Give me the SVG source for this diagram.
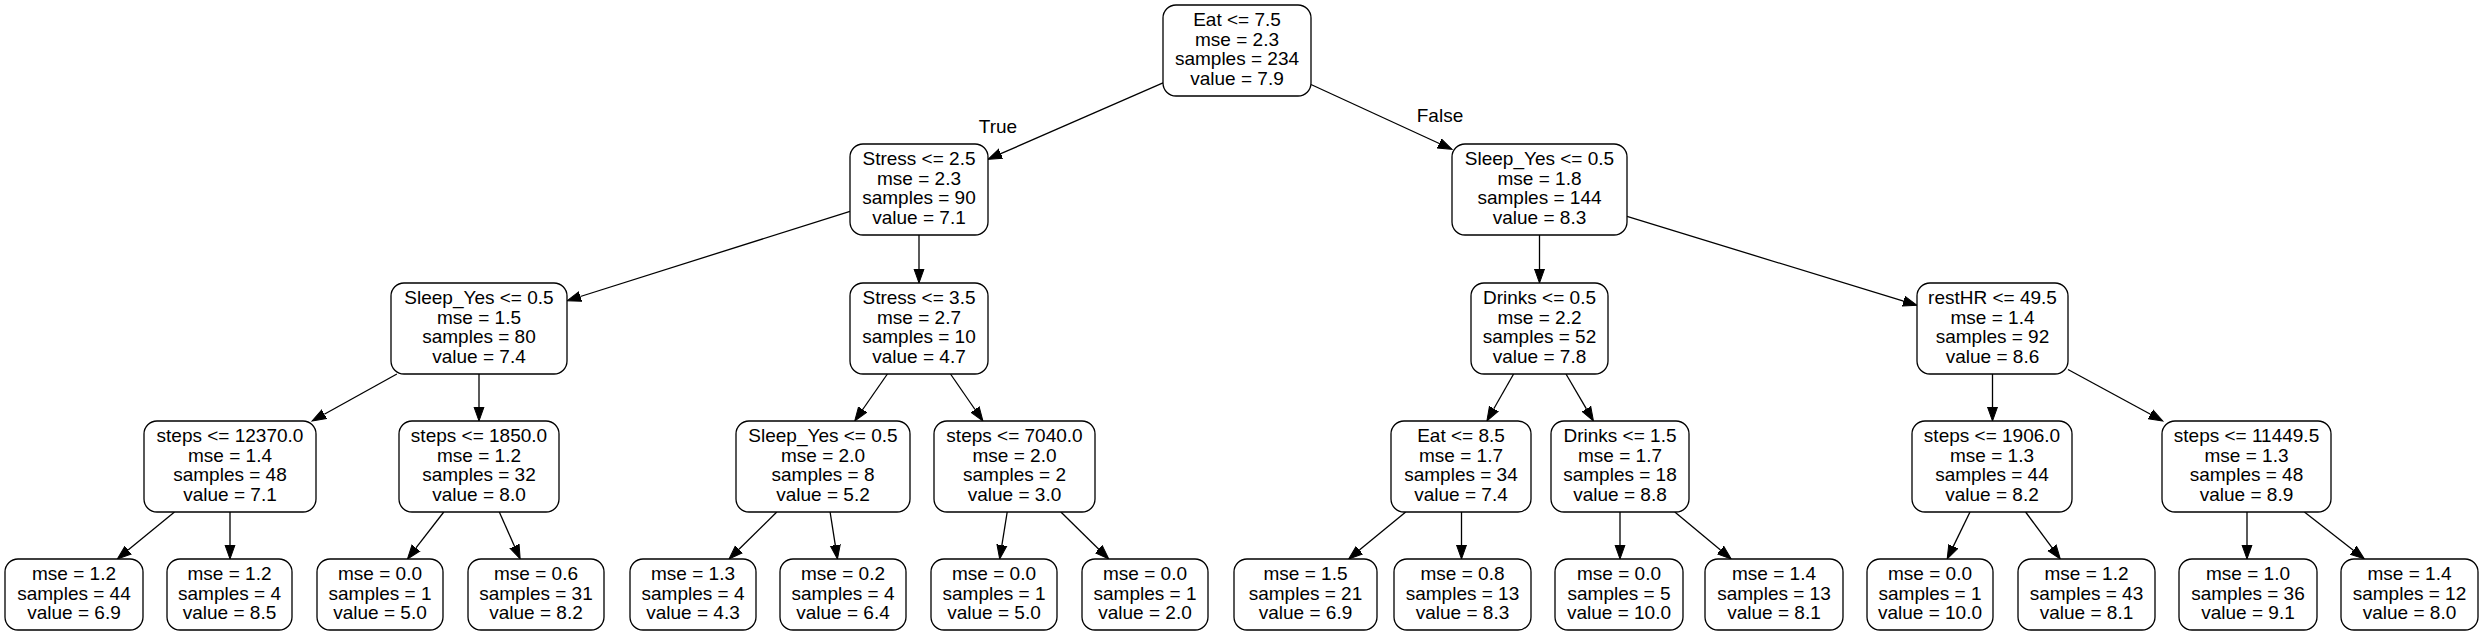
<svg xmlns="http://www.w3.org/2000/svg" width="2483" height="636" viewBox="0 0 2483 636">
<style>
.n rect{fill:#fff;stroke:#000;stroke-width:1.3}
text{font-family:"Liberation Sans",Arial,sans-serif;font-size:19px;fill:#000;text-anchor:middle}
.e line{stroke:#000;stroke-width:1.3;marker-end:url(#ah)}
</style>
<defs>
<marker id="ah" markerUnits="userSpaceOnUse" markerWidth="16" markerHeight="12" refX="0" refY="5" orient="auto" viewBox="0 0 16 10">
<path d="M0,0 L14,5 L0,10 Z" fill="#000" stroke="#000" stroke-width="1"/>
</marker>
</defs>
<rect width="2483" height="636" fill="#fff"/>
<g class="e" id="edges">
<line x1="1163" y1="82.9" x2="1000.8" y2="153.7"/>
<line x1="1311" y1="84.5" x2="1439.3" y2="143.5"/>
<line x1="850" y1="211.3" x2="580.4" y2="296.5"/>
<line x1="919" y1="235" x2="919" y2="269"/>
<line x1="1539.5" y1="235" x2="1539.5" y2="269"/>
<line x1="1627" y1="216.4" x2="1903.6" y2="301.2"/>
<line x1="396.9" y1="374" x2="324.3" y2="414.2"/>
<line x1="479" y1="374" x2="479" y2="407"/>
<line x1="887.4" y1="374" x2="862.7" y2="409.5"/>
<line x1="950.5" y1="374" x2="975" y2="409.5"/>
<line x1="1513.6" y1="374" x2="1493.8" y2="408.8"/>
<line x1="1566" y1="374" x2="1586.4" y2="408.9"/>
<line x1="1992.5" y1="374" x2="1992.5" y2="407"/>
<line x1="2068" y1="369.5" x2="2150.5" y2="414.3"/>
<line x1="174.5" y1="512" x2="128.1" y2="550.1"/>
<line x1="230" y1="512" x2="230" y2="545"/>
<line x1="443.8" y1="512" x2="416" y2="547.9"/>
<line x1="499.3" y1="512" x2="514.5" y2="546.2"/>
<line x1="776.8" y1="512" x2="739" y2="549.2"/>
<line x1="830.1" y1="512" x2="835.3" y2="545.2"/>
<line x1="1007.2" y1="512" x2="1001.9" y2="545.2"/>
<line x1="1060.9" y1="512" x2="1098.8" y2="549.2"/>
<line x1="1405.7" y1="512" x2="1359.4" y2="550.1"/>
<line x1="1461.5" y1="512" x2="1461.5" y2="545"/>
<line x1="1620" y1="512" x2="1620" y2="545"/>
<line x1="1674.8" y1="512" x2="1720.5" y2="550.1"/>
<line x1="1970" y1="512" x2="1953.3" y2="546.4"/>
<line x1="2025.6" y1="512" x2="2052" y2="547.7"/>
<line x1="2247" y1="512" x2="2247" y2="545"/>
<line x1="2304.4" y1="512" x2="2353.3" y2="550.3"/>
<text x="998" y="132.7">True</text>
<text x="1440" y="121.7">False</text>
</g>
<g class="n" id="n0"><rect x="1163" y="5" width="148" height="91" rx="13"/><text x="1237" y="26">Eat &lt;= 7.5</text><text x="1237" y="45.7">mse = 2.3</text><text x="1237" y="65.4">samples = 234</text><text x="1237" y="85.1">value = 7.9</text></g>
<g class="n" id="n1"><rect x="850" y="144" width="138" height="91" rx="13"/><text x="919" y="165">Stress &lt;= 2.5</text><text x="919" y="184.7">mse = 2.3</text><text x="919" y="204.4">samples = 90</text><text x="919" y="224.1">value = 7.1</text></g>
<g class="n" id="n2"><rect x="1452" y="144" width="175" height="91" rx="13"/><text x="1539.5" y="165">Sleep_Yes &lt;= 0.5</text><text x="1539.5" y="184.7">mse = 1.8</text><text x="1539.5" y="204.4">samples = 144</text><text x="1539.5" y="224.1">value = 8.3</text></g>
<g class="n" id="n3"><rect x="391" y="283" width="176" height="91" rx="13"/><text x="479" y="304">Sleep_Yes &lt;= 0.5</text><text x="479" y="323.7">mse = 1.5</text><text x="479" y="343.4">samples = 80</text><text x="479" y="363.1">value = 7.4</text></g>
<g class="n" id="n4"><rect x="850" y="283" width="138" height="91" rx="13"/><text x="919" y="304">Stress &lt;= 3.5</text><text x="919" y="323.7">mse = 2.7</text><text x="919" y="343.4">samples = 10</text><text x="919" y="363.1">value = 4.7</text></g>
<g class="n" id="n5"><rect x="1471" y="283" width="137" height="91" rx="13"/><text x="1539.5" y="304">Drinks &lt;= 0.5</text><text x="1539.5" y="323.7">mse = 2.2</text><text x="1539.5" y="343.4">samples = 52</text><text x="1539.5" y="363.1">value = 7.8</text></g>
<g class="n" id="n6"><rect x="1917" y="283" width="151" height="91" rx="13"/><text x="1992.5" y="304">restHR &lt;= 49.5</text><text x="1992.5" y="323.7">mse = 1.4</text><text x="1992.5" y="343.4">samples = 92</text><text x="1992.5" y="363.1">value = 8.6</text></g>
<g class="n" id="n7"><rect x="144" y="421" width="172" height="91" rx="13"/><text x="230" y="442">steps &lt;= 12370.0</text><text x="230" y="461.7">mse = 1.4</text><text x="230" y="481.4">samples = 48</text><text x="230" y="501.1">value = 7.1</text></g>
<g class="n" id="n8"><rect x="399" y="421" width="160" height="91" rx="13"/><text x="479" y="442">steps &lt;= 1850.0</text><text x="479" y="461.7">mse = 1.2</text><text x="479" y="481.4">samples = 32</text><text x="479" y="501.1">value = 8.0</text></g>
<g class="n" id="n9"><rect x="736" y="421" width="174" height="91" rx="13"/><text x="823" y="442">Sleep_Yes &lt;= 0.5</text><text x="823" y="461.7">mse = 2.0</text><text x="823" y="481.4">samples = 8</text><text x="823" y="501.1">value = 5.2</text></g>
<g class="n" id="n10"><rect x="934" y="421" width="161" height="91" rx="13"/><text x="1014.5" y="442">steps &lt;= 7040.0</text><text x="1014.5" y="461.7">mse = 2.0</text><text x="1014.5" y="481.4">samples = 2</text><text x="1014.5" y="501.1">value = 3.0</text></g>
<g class="n" id="n11"><rect x="1391" y="421" width="140" height="91" rx="13"/><text x="1461" y="442">Eat &lt;= 8.5</text><text x="1461" y="461.7">mse = 1.7</text><text x="1461" y="481.4">samples = 34</text><text x="1461" y="501.1">value = 7.4</text></g>
<g class="n" id="n12"><rect x="1551" y="421" width="138" height="91" rx="13"/><text x="1620" y="442">Drinks &lt;= 1.5</text><text x="1620" y="461.7">mse = 1.7</text><text x="1620" y="481.4">samples = 18</text><text x="1620" y="501.1">value = 8.8</text></g>
<g class="n" id="n13"><rect x="1912" y="421" width="160" height="91" rx="13"/><text x="1992" y="442">steps &lt;= 1906.0</text><text x="1992" y="461.7">mse = 1.3</text><text x="1992" y="481.4">samples = 44</text><text x="1992" y="501.1">value = 8.2</text></g>
<g class="n" id="n14"><rect x="2162" y="421" width="169" height="91" rx="13"/><text x="2246.5" y="442">steps &lt;= 11449.5</text><text x="2246.5" y="461.7">mse = 1.3</text><text x="2246.5" y="481.4">samples = 48</text><text x="2246.5" y="501.1">value = 8.9</text></g>
<g class="n" id="l1"><rect x="5" y="559" width="138" height="71" rx="13"/><text x="74" y="579.8">mse = 1.2</text><text x="74" y="599.5">samples = 44</text><text x="74" y="619.2">value = 6.9</text></g>
<g class="n" id="l2"><rect x="167" y="559" width="125" height="71" rx="13"/><text x="229.5" y="579.8">mse = 1.2</text><text x="229.5" y="599.5">samples = 4</text><text x="229.5" y="619.2">value = 8.5</text></g>
<g class="n" id="l3"><rect x="317" y="559" width="126" height="71" rx="13"/><text x="380" y="579.8">mse = 0.0</text><text x="380" y="599.5">samples = 1</text><text x="380" y="619.2">value = 5.0</text></g>
<g class="n" id="l4"><rect x="468" y="559" width="136" height="71" rx="13"/><text x="536" y="579.8">mse = 0.6</text><text x="536" y="599.5">samples = 31</text><text x="536" y="619.2">value = 8.2</text></g>
<g class="n" id="l5"><rect x="630" y="559" width="126" height="71" rx="13"/><text x="693" y="579.8">mse = 1.3</text><text x="693" y="599.5">samples = 4</text><text x="693" y="619.2">value = 4.3</text></g>
<g class="n" id="l6"><rect x="780" y="559" width="126" height="71" rx="13"/><text x="843" y="579.8">mse = 0.2</text><text x="843" y="599.5">samples = 4</text><text x="843" y="619.2">value = 6.4</text></g>
<g class="n" id="l7"><rect x="931" y="559" width="126" height="71" rx="13"/><text x="994" y="579.8">mse = 0.0</text><text x="994" y="599.5">samples = 1</text><text x="994" y="619.2">value = 5.0</text></g>
<g class="n" id="l8"><rect x="1082" y="559" width="126" height="71" rx="13"/><text x="1145" y="579.8">mse = 0.0</text><text x="1145" y="599.5">samples = 1</text><text x="1145" y="619.2">value = 2.0</text></g>
<g class="n" id="l9"><rect x="1234" y="559" width="143" height="71" rx="13"/><text x="1305.5" y="579.8">mse = 1.5</text><text x="1305.5" y="599.5">samples = 21</text><text x="1305.5" y="619.2">value = 6.9</text></g>
<g class="n" id="l10"><rect x="1394" y="559" width="137" height="71" rx="13"/><text x="1462.5" y="579.8">mse = 0.8</text><text x="1462.5" y="599.5">samples = 13</text><text x="1462.5" y="619.2">value = 8.3</text></g>
<g class="n" id="l11"><rect x="1555" y="559" width="128" height="71" rx="13"/><text x="1619" y="579.8">mse = 0.0</text><text x="1619" y="599.5">samples = 5</text><text x="1619" y="619.2">value = 10.0</text></g>
<g class="n" id="l12"><rect x="1705" y="559" width="138" height="71" rx="13"/><text x="1774" y="579.8">mse = 1.4</text><text x="1774" y="599.5">samples = 13</text><text x="1774" y="619.2">value = 8.1</text></g>
<g class="n" id="l13"><rect x="1867" y="559" width="126" height="71" rx="13"/><text x="1930" y="579.8">mse = 0.0</text><text x="1930" y="599.5">samples = 1</text><text x="1930" y="619.2">value = 10.0</text></g>
<g class="n" id="l14"><rect x="2018" y="559" width="137" height="71" rx="13"/><text x="2086.5" y="579.8">mse = 1.2</text><text x="2086.5" y="599.5">samples = 43</text><text x="2086.5" y="619.2">value = 8.1</text></g>
<g class="n" id="l15"><rect x="2179" y="559" width="138" height="71" rx="13"/><text x="2248" y="579.8">mse = 1.0</text><text x="2248" y="599.5">samples = 36</text><text x="2248" y="619.2">value = 9.1</text></g>
<g class="n" id="l16"><rect x="2341" y="559" width="137" height="71" rx="13"/><text x="2409.5" y="579.8">mse = 1.4</text><text x="2409.5" y="599.5">samples = 12</text><text x="2409.5" y="619.2">value = 8.0</text></g>
</svg>
